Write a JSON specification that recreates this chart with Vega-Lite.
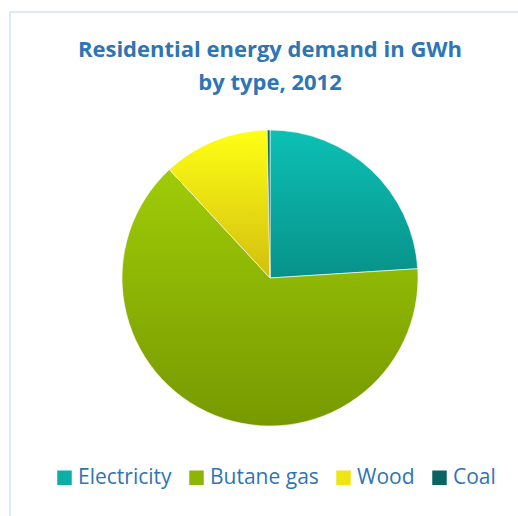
{
  "$schema": "https://vega.github.io/schema/vega-lite/v6.json",
  "background": "white",
  "autosize": "none",
  "padding": {"left": 10, "top": 12, "right": 0, "bottom": 0},
  "width": 520,
  "height": 532,
  "title": {
    "text": ["Residential energy demand in GWh", "by type, 2012"],
    "frame": "group",
    "anchor": "middle",
    "orient": "top",
    "dy": 88,
    "font": "Open Sans",
    "fontSize": 22,
    "fontWeight": "bold",
    "lineHeight": 33,
    "color": "#2E75B6"
  },
  "data": {
    "values": [
      {"type": "Electricity", "gwh": 240, "idx": 1},
      {"type": "Butane gas", "gwh": 641, "idx": 2},
      {"type": "Wood", "gwh": 116, "idx": 3},
      {"type": "Coal", "gwh": 3, "idx": 4}
    ]
  },
  "layer": [
    {
      "data": {"values": [{"frame": 1}]},
      "mark": {"type": "rect", "fill": null, "stroke": "#DEEBF7", "strokeWidth": 2},
      "encoding": {}
    },
    {
      "mark": {"type": "arc", "outerRadius": 148, "stroke": "white", "strokeWidth": 0.6},
      "encoding": {
        "theta": {"field": "gwh", "type": "quantitative", "stack": true},
        "order": {"field": "idx", "type": "quantitative"},
        "color": {
          "field": "type",
          "type": "nominal",
          "title": null,
          "condition": [
            {"test": "datum.type === 'Electricity'", "value": {"gradient": "linear", "x1": 0, "y1": 0, "x2": 0, "y2": 1, "stops": [{"offset": 0, "color": "#0DC0B4"}, {"offset": 1, "color": "#07928A"}]}},
            {"test": "datum.type === 'Butane gas'", "value": {"gradient": "linear", "x1": 0, "y1": 0, "x2": 0, "y2": 1, "stops": [{"offset": 0, "color": "#9FCC08"}, {"offset": 1, "color": "#779900"}]}},
            {"test": "datum.type === 'Wood'", "value": {"gradient": "linear", "x1": 0, "y1": 0, "x2": 0, "y2": 1, "stops": [{"offset": 0, "color": "#FFFF14"}, {"offset": 1, "color": "#D2BE10"}]}},
            {"test": "datum.type === 'Coal'", "value": {"gradient": "linear", "x1": 0, "y1": 0, "x2": 0, "y2": 1, "stops": [{"offset": 0, "color": "#0A7070"}, {"offset": 1, "color": "#055858"}]}}
          ],
          "scale": {
            "domain": ["Electricity", "Butane gas", "Wood", "Coal"],
            "range": ["#0BAFA5", "#8DB503", "#EDE514", "#086462"]
          },
          "legend": {
            "orient": "none",
            "direction": "horizontal",
            "legendX": 44,
            "legendY": 455,
            "symbolType": "square",
            "symbolSize": 210,
            "symbolStrokeWidth": 0,
            "labelFont": "Open Sans",
            "labelFontSize": 21,
            "labelColor": "#2E75B6",
            "labelOffset": 3,
            "columnPadding": 14
          }
        }
      }
    }
  ],
  "config": {
    "view": {"stroke": null}
  }
}
